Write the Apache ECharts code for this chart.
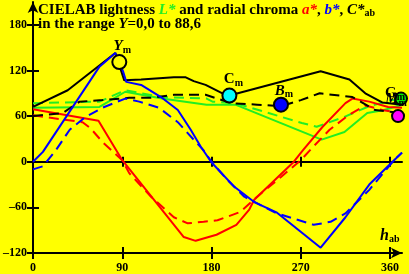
<!DOCTYPE html>
<html>
<head>
<meta charset="utf-8">
<script src="https://cdn.jsdelivr.net/npm/echarts@6/dist/echarts.min.js"></script>
<style>
  html, body { margin: 0; padding: 0; background: #ffff00; }
  #chart { width: 409px; height: 274px; }
</style>
</head>
<body>
<div id="chart"></div>
<script>
  // tick labels
  var hueTicks = [0, 90, 180, 270, 360];
  var valueTicks = [-120, -60, 0, 60, 120, 180];

  // C*ab (black)
  var cSolidH = [0, 35, 83, 92, 109, 142, 154, 162, 174, 191, 198, 290, 319, 335, 352, 372];
  var cSolidV = [72, 94, 143, 107, 108, 111, 111, 106, 101, 90, 87, 119, 108, 90, 78, 75];
  var cDashH = [0, 30, 47, 70, 97, 119, 142, 174, 200, 226, 250, 270, 289, 322, 345, 372];
  var cDashV = [60, 64, 79, 81, 84, 84, 88, 88, 77, 75, 73, 81, 90, 85, 68, 64];

  // b* (blue)
  var bSolidH = [0, 10, 67, 83, 91, 94, 109, 129, 146, 159, 169, 180, 203, 223, 246, 290, 315, 339, 364, 372];
  var bSolidV = [0, 13, 125, 143, 118, 105, 101, 85, 68, 42, 20, -1, -33, -53, -67, -113, -73, -30, 2, 12];
  var bDashH = [0, 10, 23, 37, 53, 70, 93, 107, 127, 146, 162, 172, 180, 196, 213, 246, 283, 300, 315, 339, 364, 372];
  var bDashV = [-10, -6, 15, 42, 59, 71, 83, 79, 71, 52, 29, 15, 0, -24, -46, -68, -83, -79, -68, -37, 2, 12];

  // a* (red)
  var aSolidH = [0, 66, 90, 152, 164, 185, 205, 218, 223, 263, 272, 292, 315, 322, 339, 358, 372];
  var aSolidV = [69, 54, 2, -99, -104, -96, -83, -63, -50, 0, 15, 46, 77, 83, 79, 72, 71];
  var aDashH = [0, 50, 58, 70, 90, 97, 119, 142, 156, 172, 186, 209, 226, 250, 270, 282, 299, 319, 335, 352, 372];
  var aDashV = [61, 52, 44, 26, 2, -15, -46, -73, -81, -79, -77, -66, -46, -20, 2, 19, 42, 62, 74, 68, 64];

  // L* (green)
  var lSolidH = [0, 67, 93, 130, 175, 204, 291, 314, 337, 354, 372];
  var lSolidV = [71, 72, 92, 83, 75, 75, 29, 39, 64, 68, 75];
  var lDashH = [0, 67, 93, 130, 175, 181, 204, 271, 286, 314, 337, 361, 372];
  var lDashV = [77, 79, 94, 85, 83, 79, 77, 51, 46, 59, 72, 81, 81];

  // marked points
  var markNames = ['Y', 'C', 'B', 'G', 'M'];
  var markH = [87, 198, 250, 371, 368];
  var markV = [131, 87, 75, 83, 60];

  var chart = echarts.init(document.getElementById('chart'));
  var serif = '"Liberation Serif", "DejaVu Serif", serif';

  function pairs(h, v) {
    return h.map(function (x, i) { return [x, v[i]]; });
  }

  function line(h, v, color, dashed) {
    return {
      type: 'line',
      data: pairs(h, v),
      showSymbol: false,
      symbol: 'none',
      animation: false,
      lineStyle: { color: color, width: 2, type: dashed ? [10, 6] : 'solid' }
    };
  }

  var markStyle = [
    { fill: '#ffff00', italic: true, pos: [3, 6] },
    { fill: '#00ffff', italic: false, pos: [4, 6] },
    { fill: '#0000ff', italic: true, pos: [3, 8] },
    { fill: '#00ee00', italic: false, pos: [-6, 16] },
    { fill: '#ff00ff', italic: true, pos: [-2, 4] }
  ];

  var markSeries = markNames.map(function (n, i) {
    var st = markStyle[i];
    return {
      type: 'scatter',
      animation: false,
      symbol: 'circle',
      symbolSize: i >= 3 ? 12 : 14,
      data: [[markH[i], markV[i]]],
      itemStyle: { color: st.fill, borderColor: '#000', borderWidth: 2, opacity: 1 },
      label: {
        show: true,
        position: 'top',
        offset: st.pos,
        formatter: '{n|' + n + '}{s|m}',
        rich: {
          n: { fontFamily: serif, fontWeight: 'bold', fontSize: 15, fontStyle: st.italic ? 'italic' : 'normal', color: '#000' },
          s: { fontFamily: serif, fontWeight: 'bold', fontSize: 10, color: '#000', padding: [8, 0, 0, 0] }
        }
      },
      z: 5
    };
  });

  var axisBase = { type: 'value', min: 0, max: 372, splitLine: { show: false } };

  var option = {
    backgroundColor: '#ffff00',
    animation: false,
    grid: { left: 30, right: 7, top: 2, bottom: 21 },
    xAxis: [
      Object.assign({}, axisBase, {
        position: 'bottom',
        axisLine: { onZero: false, symbol: ['none', 'arrow'], symbolSize: [8, 11], lineStyle: { color: '#000', width: 2 } },
        axisTick: { customValues: hueTicks, length: 6, lineStyle: { color: '#000', width: 2 } },
        axisLabel: { customValues: hueTicks, color: '#000', fontFamily: serif, fontWeight: 'bold', fontSize: 12, margin: 9 }
      }),
      Object.assign({}, axisBase, {
        position: 'bottom',
        axisLine: { show: false, onZero: false },
        axisTick: { customValues: hueTicks, inside: true, length: 6, lineStyle: { color: '#000', width: 2 } },
        axisLabel: { show: false }
      }),
      Object.assign({}, axisBase, {
        position: 'bottom',
        axisLine: { onZero: true, lineStyle: { color: '#000', width: 2 } },
        axisTick: { customValues: hueTicks, length: 5, lineStyle: { color: '#000', width: 2 } },
        axisLabel: { show: false }
      }),
      Object.assign({}, axisBase, {
        position: 'bottom',
        axisLine: { show: false, onZero: true },
        axisTick: { customValues: hueTicks, inside: true, length: 5, lineStyle: { color: '#000', width: 2 } },
        axisLabel: { show: false }
      })
    ],
    yAxis: [
      {
        type: 'value', min: -120, max: 210, position: 'left',
        splitLine: { show: false },
        axisLine: { onZero: false, symbol: ['none', 'arrow'], symbolSize: [8, 11], lineStyle: { color: '#000', width: 2 } },
        axisTick: { customValues: valueTicks, length: 6, lineStyle: { color: '#000', width: 2 } },
        axisLabel: {
          customValues: valueTicks, color: '#000', fontFamily: serif, fontWeight: 'bold', fontSize: 12, margin: 6,
          formatter: function (v) { return v < 0 ? '–' + (-v) : String(v); }
        }
      },
      {
        type: 'value', min: -120, max: 210, position: 'left',
        splitLine: { show: false },
        axisLine: { show: false, onZero: false },
        axisTick: { customValues: valueTicks, inside: true, length: 6, lineStyle: { color: '#000', width: 2 } },
        axisLabel: { show: false }
      }
    ],
    graphic: [
      {
        type: 'text', left: 38, top: 3, z: 10,
        style: {
          text: 'CIELAB lightness {g|L*} and radial chroma {r|a*}, {b|b*}, {k|C*}{s|ab}',
          font: 'bold 15px ' + serif, fill: '#000',
          rich: {
            g: { fontFamily: serif, fontWeight: 'bold', fontStyle: 'italic', fontSize: 15, fill: '#22ee22' },
            r: { fontFamily: serif, fontWeight: 'bold', fontStyle: 'italic', fontSize: 15, fill: '#ff0000' },
            b: { fontFamily: serif, fontWeight: 'bold', fontStyle: 'italic', fontSize: 15, fill: '#0000ff' },
            k: { fontFamily: serif, fontWeight: 'bold', fontStyle: 'italic', fontSize: 15, fill: '#000' },
            s: { fontFamily: serif, fontWeight: 'bold', fontSize: 10, fill: '#000', padding: [6, 0, 0, 0] }
          }
        }
      },
      {
        type: 'text', left: 38, top: 17, z: 10,
        style: {
          text: 'in the range {i|Y}=0,0 to 88,6',
          font: 'bold 15px ' + serif, fill: '#000',
          rich: {
            i: { fontFamily: serif, fontWeight: 'bold', fontStyle: 'italic', fontSize: 15, fill: '#000' }
          }
        }
      },
      {
        type: 'text', left: 380, top: 228, z: 10,
        style: {
          text: '{h|h}{s|ab}',
          rich: {
            h: { fontFamily: serif, fontWeight: 'bold', fontStyle: 'italic', fontSize: 16, fill: '#000' },
            s: { fontFamily: serif, fontWeight: 'bold', fontSize: 10, fill: '#000', padding: [7, 0, 0, 0] }
          }
        }
      }
    ],
    series: [
      line(lDashH, lDashV, '#22ee22', true),
      line(lSolidH, lSolidV, '#22ee22', false),
      line(aDashH, aDashV, '#ff0000', true),
      line(aSolidH, aSolidV, '#ff0000', false),
      line(cDashH, cDashV, '#000000', true),
      line(cSolidH, cSolidV, '#000000', false),
      line(bDashH, bDashV, '#0000ff', true),
      line(bSolidH, bSolidV, '#0000ff', false)
    ].concat(markSeries)
  };

  chart.setOption(option);
</script>
</body>
</html>
